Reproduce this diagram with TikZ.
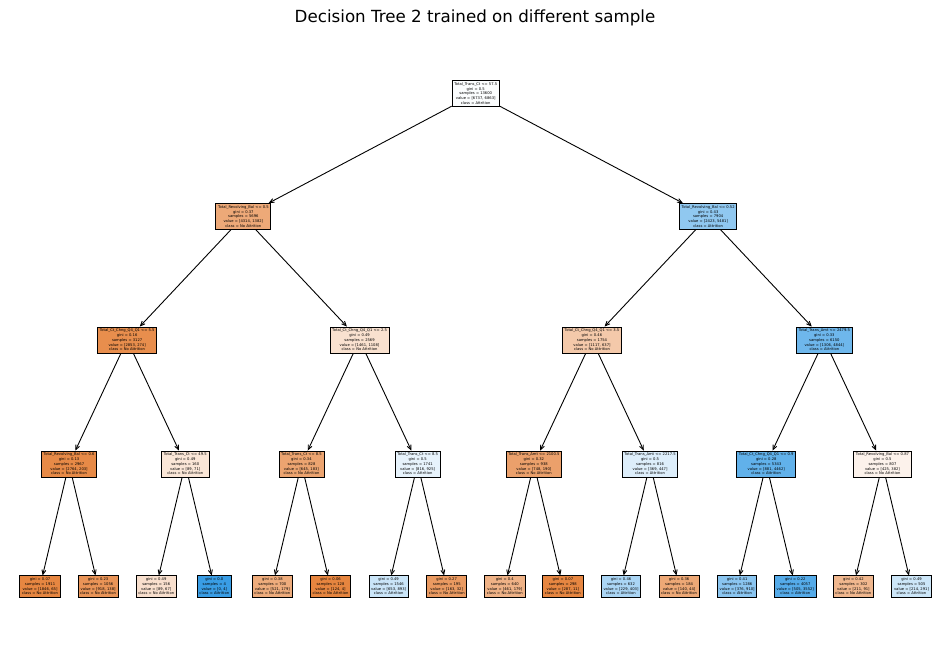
\documentclass[tikz,border=0pt]{standalone}
\usepackage{fontspec}
\setmainfont{DejaVu Sans}
\usepackage{tikz}
\usetikzlibrary{arrows.meta}
\definecolor{noattr}{RGB}{229,129,57}
\definecolor{attr}{RGB}{57,157,229}

\begin{document}
\begin{tikzpicture}[
  x=1pt, y=-1pt,
  treenode/.style={draw, line width=0.8pt, align=center, inner sep=2.2pt,
                   font=\fontsize{3.7}{4.7}\selectfont},
  edge/.style={-{Straight Barb[length=4.5pt,width=4pt]}, line width=0.9pt},
]
\useasboundingbox (0,0) rectangle (950,658);

%% -- Title -----------------------------------------------------------------
\node[font=\fontsize{16.7}{20}\selectfont] (title) at (475,18)
  {Decision Tree 2 trained on different sample};

%% -- Root and level 1 ------------------------------------------------------
\node[treenode, fill=attr!2!white] (n1) at (475.75,93.5)
  {Total\_Trans\_Ct <= 57.5\\gini = 0.5\\samples = 13600\\value = [6737, 6863]\\class = Attrition};
\node[treenode, fill=noattr!68!white] (n2) at (243.35,216.5)
  {Total\_Revolving\_Bal <= 0.5\\gini = 0.37\\samples = 5696\\value = [4314, 1382]\\class = No Attrition};
\node[treenode, fill=attr!56!white] (n3) at (708.15,216.5)
  {Total\_Revolving\_Bal <= 0.52\\gini = 0.43\\samples = 7904\\value = [2423, 5481]\\class = Attrition};

%% -- Level 2 ---------------------------------------------------------------
\node[treenode, fill=noattr!90!white] (n4) at (127.15,340)
  {Total\_Ct\_Chng\_Q4\_Q1 <= 5.5\\gini = 0.16\\samples = 3127\\value = [2853, 274]\\class = No Attrition};
\node[treenode, fill=noattr!24!white] (n5) at (359.55,340)
  {Total\_Ct\_Chng\_Q4\_Q1 <= 2.5\\gini = 0.49\\samples = 2569\\value = [1461, 1108]\\class = No Attrition};
\node[treenode, fill=noattr!43!white] (n6) at (591.95,340)
  {Total\_Ct\_Chng\_Q4\_Q1 <= 3.5\\gini = 0.46\\samples = 1754\\value = [1117, 637]\\class = No Attrition};
\node[treenode, fill=attr!73!white] (n7) at (824.35,340)
  {Total\_Trans\_Amt <= 2479.5\\gini = 0.33\\samples = 6150\\value = [1306, 4844]\\class = Attrition};

%% -- Level 3 ---------------------------------------------------------------
\node[treenode, fill=noattr!93!white] (n8) at (69.05,464)
  {Total\_Revolving\_Bal <= 0.6\\gini = 0.13\\samples = 2967\\value = [2764, 203]\\class = No Attrition};
\node[treenode, fill=noattr!20!white] (n9) at (185.25,464)
  {Total\_Trans\_Ct <= 49.5\\gini = 0.49\\samples = 160\\value = [89, 71]\\class = No Attrition};
\node[treenode, fill=noattr!72!white] (n10) at (301.45,464)
  {Total\_Trans\_Ct <= 8.5\\gini = 0.34\\samples = 828\\value = [645, 183]\\class = No Attrition};
\node[treenode, fill=attr!12!white] (n11) at (417.65,464)
  {Total\_Trans\_Ct <= 8.5\\gini = 0.5\\samples = 1741\\value = [816, 925]\\class = Attrition};
\node[treenode, fill=noattr!75!white] (n12) at (533.85,464)
  {Total\_Trans\_Amt <= 2100.5\\gini = 0.32\\samples = 938\\value = [748, 190]\\class = No Attrition};
\node[treenode, fill=attr!17!white] (n13) at (650.05,464)
  {Total\_Trans\_Amt <= 2217.5\\gini = 0.5\\samples = 816\\value = [369, 447]\\class = Attrition};
\node[treenode, fill=attr!80!white] (n14) at (766.25,464)
  {Total\_Ct\_Chng\_Q4\_Q1 <= 0.9\\gini = 0.28\\samples = 5343\\value = [881, 4462]\\class = Attrition};
\node[treenode, fill=noattr!10!white] (n15) at (882.45,464)
  {Total\_Revolving\_Bal <= 0.87\\gini = 0.5\\samples = 807\\value = [425, 382]\\class = No Attrition};

%% -- Leaves ----------------------------------------------------------------
\foreach \i/\col/\g/\s/\v/\c in {
  16/noattr!96/0.07/1911/{1846, 65}/No Attrition,
  17/noattr!85/0.23/1056/{918, 138}/No Attrition,
  18/noattr!25/0.49/156/{89, 67}/No Attrition,
  19/attr!100/0.0/4/{0, 4}/Attrition,
  20/noattr!66/0.38/700/{521, 179}/No Attrition,
  21/noattr!97/0.06/128/{124, 4}/No Attrition,
  22/attr!27/0.49/1546/{653, 893}/Attrition,
  23/noattr!80/0.27/195/{163, 32}/No Attrition,
  24/noattr!61/0.4/640/{461, 179}/No Attrition,
  25/noattr!96/0.07/298/{287, 11}/No Attrition,
  26/attr!43/0.46/632/{229, 403}/Attrition,
  27/noattr!69/0.36/184/{140, 44}/No Attrition,
  28/attr!59/0.41/1286/{376, 910}/Attrition,
  29/attr!86/0.22/4057/{505, 3552}/Attrition,
  30/noattr!57/0.42/302/{211, 91}/No Attrition,
  31/attr!26/0.49/505/{214, 291}/Attrition} {
  \pgfmathsetmacro{\x}{40 + 58.1*(\i-16)}
  \node[treenode, fill=\col!white] (n\i) at (\x,586.5)
    {gini = \g\\samples = \s\\value = [\v]\\class = \c};
}

%% -- Edges -----------------------------------------------------------------
\foreach \i in {1,...,15} {
  \pgfmathtruncatemacro{\l}{2*\i}
  \pgfmathtruncatemacro{\r}{2*\i+1}
  \draw[edge] (n\i) -- (n\l);
  \draw[edge] (n\i) -- (n\r);
}

\end{tikzpicture}
\end{document}
